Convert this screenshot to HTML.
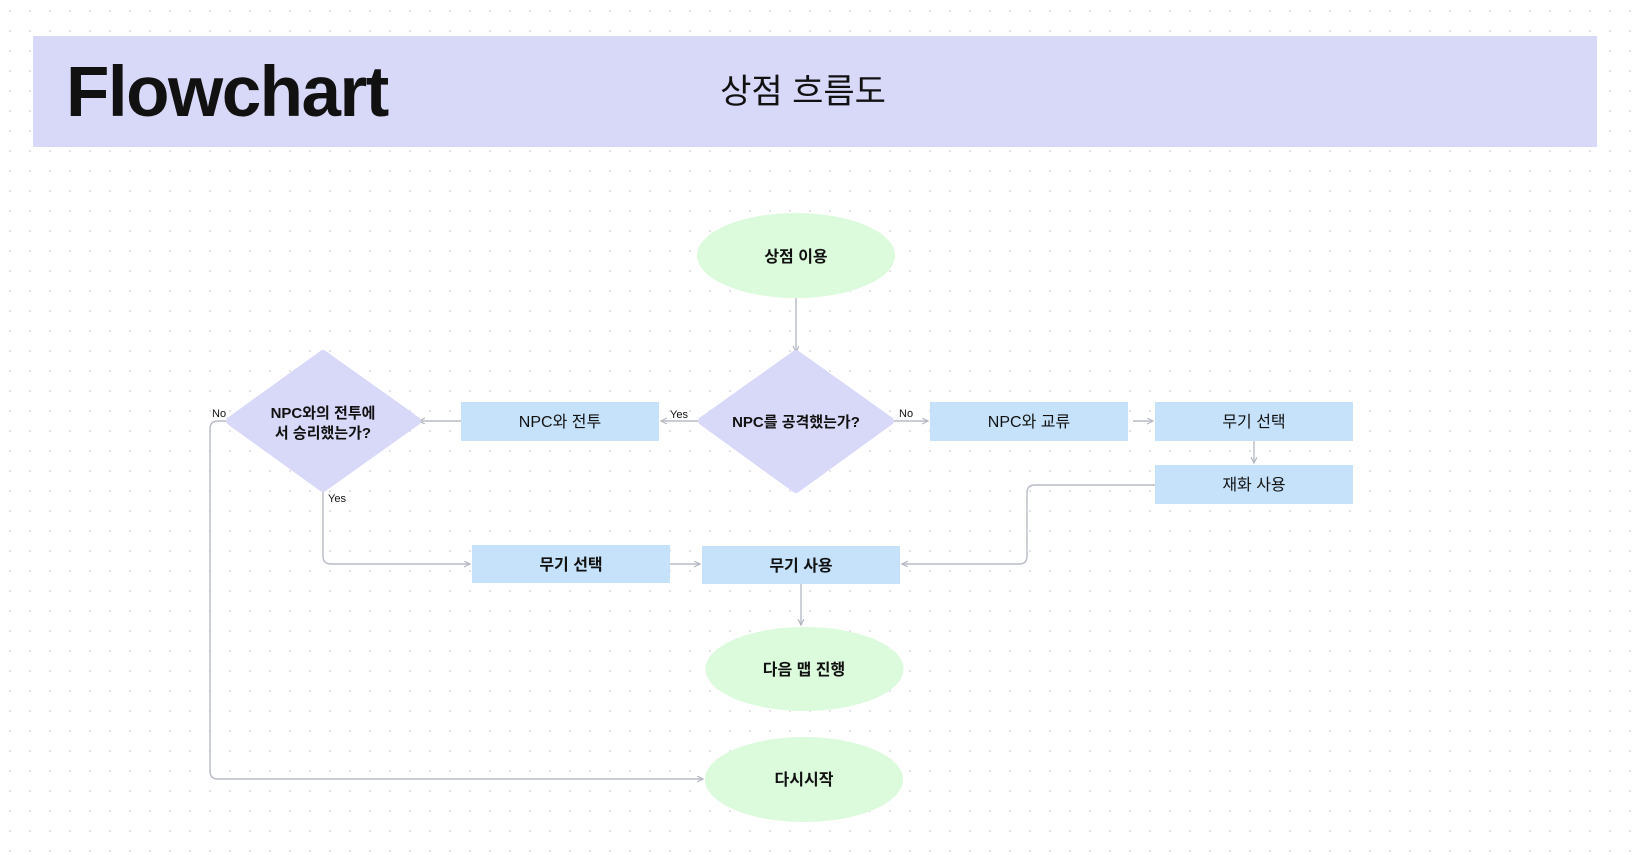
<!DOCTYPE html>
<html><head><meta charset="utf-8"><style>
html,body{margin:0;padding:0;background:#fff;}
svg{display:block;}
text{font-family:"Liberation Sans","Noto Sans CJK KR",sans-serif;fill:#111;}
</style></head><body>
<svg width="1632" height="854" viewBox="0 0 1632 854" xmlns="http://www.w3.org/2000/svg">
<defs>
<pattern id="dots" x="0" y="0" width="20" height="20" patternUnits="userSpaceOnUse">
<rect x="9" y="10" width="2" height="2" fill="#e4e4e8"/>
</pattern>
<marker id="ar" markerWidth="8" markerHeight="8" refX="6" refY="3" orient="auto" markerUnits="userSpaceOnUse">
<path d="M0,0 L6,3 L0,6" fill="none" stroke="#b4b8c2" stroke-width="1.2"/>
</marker>
</defs>
<rect width="1632" height="854" fill="#fff"/>
<rect width="1632" height="854" fill="url(#dots)"/>
<rect x="33" y="36" width="1564" height="111" fill="#d8d8f8"/>
<text x="66" y="116" font-size="71" font-weight="bold" letter-spacing="-1.5">Flowchart</text>
<text x="803" y="103" font-size="34" text-anchor="middle">상점 흐름도</text>

<g fill="none" stroke="#b8bcc6" stroke-width="1.4">
<path d="M796,298 V352" marker-end="url(#ar)"/>
<path d="M702,421 H661" marker-end="url(#ar)"/>
<path d="M890,421 H928" marker-end="url(#ar)"/>
<path d="M1133,421 H1153" marker-end="url(#ar)"/>
<path d="M1254,441 V463" marker-end="url(#ar)"/>
<path d="M463,421 H419" marker-end="url(#ar)"/>
<path d="M1155,485 H1035 Q1027,485 1027,493 V556 Q1027,564 1019,564 H902" marker-end="url(#ar)"/>
<path d="M323,488 V556 Q323,564 331,564 H470" marker-end="url(#ar)"/>
<path d="M670,564 H700" marker-end="url(#ar)"/>
<path d="M801,584 V625" marker-end="url(#ar)"/>
<path d="M230,421 H218 Q210,421 210,429 V771 Q210,779 218,779 H703" marker-end="url(#ar)"/>
</g>

<ellipse cx="796" cy="255.5" rx="99" ry="42.5" fill="#dcfadc"/>
<text x="796" y="262" font-size="16" font-weight="bold" text-anchor="middle">상점 이용</text>

<polygon points="796,354 890,421 796,489 702,421" fill="#d8d8f8" stroke="#d8d8f8" stroke-width="8" stroke-linejoin="round"/>
<text x="796" y="427" font-size="15" font-weight="bold" text-anchor="middle">NPC를 공격했는가?</text>

<polygon points="323,354 417,421 323,488 230,421" fill="#d8d8f8" stroke="#d8d8f8" stroke-width="8" stroke-linejoin="round"/>
<text x="323" y="418" font-size="15" font-weight="bold" text-anchor="middle">NPC와의 전투에</text>
<text x="323" y="438" font-size="15" font-weight="bold" text-anchor="middle">서 승리했는가?</text>

<rect x="461" y="402" width="198" height="39" fill="#c5e2fa"/>
<text x="560" y="427" font-size="16" text-anchor="middle">NPC와 전투</text>
<rect x="930" y="402" width="198" height="39" fill="#c5e2fa"/>
<text x="1029" y="427" font-size="16" text-anchor="middle">NPC와 교류</text>
<rect x="1155" y="402" width="198" height="39" fill="#c5e2fa"/>
<text x="1254" y="427" font-size="16" text-anchor="middle">무기 선택</text>
<rect x="1155" y="465" width="198" height="39" fill="#c5e2fa"/>
<text x="1254" y="490" font-size="16" text-anchor="middle">재화 사용</text>
<rect x="472" y="545" width="198" height="38" fill="#c5e2fa"/>
<text x="571" y="570" font-size="16" font-weight="bold" text-anchor="middle">무기 선택</text>
<rect x="702" y="546" width="198" height="38" fill="#c5e2fa"/>
<text x="801" y="571" font-size="16" font-weight="bold" text-anchor="middle">무기 사용</text>

<ellipse cx="804.5" cy="669" rx="99" ry="42" fill="#dcfadc"/>
<text x="804" y="675" font-size="16" font-weight="bold" text-anchor="middle">다음 맵 진행</text>
<ellipse cx="804" cy="779.5" rx="99" ry="42.5" fill="#dcfadc"/>
<text x="804" y="785" font-size="16" font-weight="bold" text-anchor="middle">다시시작</text>

<text x="212" y="417" font-size="11">No</text>
<text x="328" y="502" font-size="11">Yes</text>
<text x="670" y="418" font-size="11">Yes</text>
<text x="899" y="417" font-size="11">No</text>
</svg>
</body></html>
